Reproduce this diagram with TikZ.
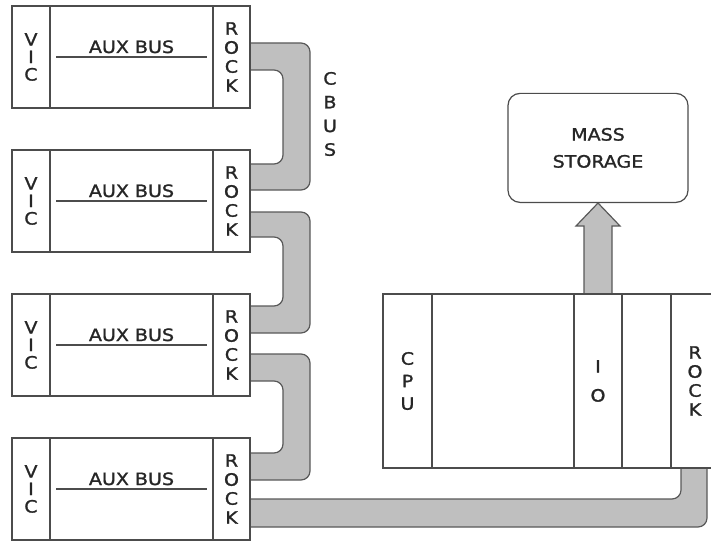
\documentclass[tikz,border=0pt]{standalone}
\usepackage{fontspec}
\newfontfamily\diagfont{DejaVu Sans}[FakeStretch=1.12,FakeBold=1.3]
\usetikzlibrary{positioning,calc,backgrounds}
\tikzset{
    slot/.style={
        rectangle,                % módulo de chasis
        draw=black!70,            % borde gris oscuro
        fill=white,               % relleno blanco (tapa los extremos de los buses)
        line width=1.2pt,
        outer sep=0pt,            % módulos pegados unos a otros
        inner sep=0pt,
        minimum width=#1,
        align=center,
        text=black!85,
        font=\diagfont\fontsize{17}{18}\selectfont
    },
    vicslot/.style={slot=#1, minimum height=102pt},   % chasis VIC
    rackslot/.style={slot=#1, minimum height=174pt},  % chasis de la CPU
    vpitch/.style={font=\diagfont\fontsize{17}{#1}\selectfont}, % letras en columna
    storage/.style={
        rectangle,
        rounded corners=12pt,     % esquinas redondeadas
        draw=black!70,
        fill=white,
        line width=1.2pt,
        minimum width=180pt,
        minimum height=109pt,
        align=center,
        text=black!85,
        font=\diagfont\fontsize{17}{27}\selectfont
    },
    lbl/.style={inner sep=0pt, text=black!85, font=\diagfont\fontsize{17}{18}\selectfont},
    auxline/.style={draw=black!70, line width=1.2pt},
    cbus/.style={
        fill=black!25,            % bus gris claro
        draw=black!65,            % contorno gris
        line width=1.2pt,
        rounded corners=9pt
    },
    busarrow/.style={fill=black!25, draw=black!65, line width=1.2pt}
}
\begin{document}
\begin{tikzpicture}[x=1pt,y=-1pt,node distance=42pt]
\useasboundingbox (0,0) rectangle (711,540);
\clip (0,0) rectangle (711,540);

% chasis VIC
\node[vicslot=38pt, vpitch=17.5pt] (vic1) at (31,57) {V\\I\\C};
\node[vicslot=163pt, right=0pt of vic1] (aux1) {};
\node[vicslot=37pt, right=0pt of aux1, vpitch=19pt] (rock1) {R\\O\\C\\K};

\node[vicslot=38pt, vpitch=17.5pt, below=of vic1] (vic2) {V\\I\\C};
\node[vicslot=163pt, right=0pt of vic2] (aux2) {};
\node[vicslot=37pt, right=0pt of aux2, vpitch=19pt] (rock2) {R\\O\\C\\K};

\node[vicslot=38pt, vpitch=17.5pt, below=of vic2] (vic3) {V\\I\\C};
\node[vicslot=163pt, right=0pt of vic3] (aux3) {};
\node[vicslot=37pt, right=0pt of aux3, vpitch=19pt] (rock3) {R\\O\\C\\K};

\node[vicslot=38pt, vpitch=17.5pt, below=of vic3] (vic4) {V\\I\\C};
\node[vicslot=163pt, right=0pt of vic4] (aux4) {};
\node[vicslot=37pt, right=0pt of aux4, vpitch=19pt] (rock4) {R\\O\\C\\K};

% bus auxiliar de cada chasis
\node[lbl, anchor=base] (auxl1) at ($(aux1.center)+(0,-4)$) {AUX BUS};
\draw[auxline] ($(aux1.west)+(6,0)$) -- ($(aux1.east)+(-6,0)$);
\node[lbl, anchor=base] (auxl2) at ($(aux2.center)+(0,-4)$) {AUX BUS};
\draw[auxline] ($(aux2.west)+(6,0)$) -- ($(aux2.east)+(-6,0)$);
\node[lbl, anchor=base] (auxl3) at ($(aux3.center)+(0,-4)$) {AUX BUS};
\draw[auxline] ($(aux3.west)+(6,0)$) -- ($(aux3.east)+(-6,0)$);
\node[lbl, anchor=base] (auxl4) at ($(aux4.center)+(0,-4)$) {AUX BUS};
\draw[auxline] ($(aux4.west)+(6,0)$) -- ($(aux4.east)+(-6,0)$);

% chasis de la CPU
\node[rackslot=49pt, vpitch=22.5pt] (cpu) at (407.5,381) {C\\P\\U};
\node[rackslot=142pt, right=0pt of cpu] (rackmid) {};
\node[rackslot=48pt, right=0pt of rackmid, vpitch=29pt] (io) {I\\O};
\node[rackslot=49pt, right=0pt of io] (spare) {};
\node[rackslot=48pt, right=0pt of spare, vpitch=19pt] (rrock) {R\\O\\C\\K};

\node[storage, above=91pt of io] (mass) {MASS\\STORAGE};
\node[lbl, align=center, font=\diagfont\fontsize{17}{23.7}\selectfont] (cbuslbl) at (330,114) {C\\B\\U\\S};

\begin{scope}[on background layer]
% C BUS entre chasis
\draw[cbus] ($(rock1.north east)+(-20,37)$) -- ($(rock1.north east)+(60,37)$)
    -- ($(rock2.north east)+(60,40)$) -- ($(rock2.north east)+(-20,40)$)
    -- ($(rock2.north east)+(-20,14)$) -- ($(rock2.north east)+(33,14)$)
    -- ($(rock1.north east)+(33,64)$) -- ($(rock1.north east)+(-20,64)$) -- cycle;
\draw[cbus] ($(rock2.north east)+(-20,62)$) -- ($(rock2.north east)+(60,62)$)
    -- ($(rock3.north east)+(60,39)$) -- ($(rock3.north east)+(-20,39)$)
    -- ($(rock3.north east)+(-20,12)$) -- ($(rock3.north east)+(33,12)$)
    -- ($(rock2.north east)+(33,87)$) -- ($(rock2.north east)+(-20,87)$) -- cycle;
\draw[cbus] ($(rock3.north east)+(-20,60)$) -- ($(rock3.north east)+(60,60)$)
    -- ($(rock4.north east)+(60,42)$) -- ($(rock4.north east)+(-20,42)$)
    -- ($(rock4.north east)+(-20,15)$) -- ($(rock4.north east)+(33,15)$)
    -- ($(rock3.north east)+(33,87)$) -- ($(rock3.north east)+(-20,87)$) -- cycle;

% C BUS hasta el chasis de la CPU
\coordinate (rin) at ($(rock4.north east)+(-20,61)$);
\coordinate (rout) at ($(rock4.north east)+(-20,89)$);
\coordinate (cin) at ($(rrock.south west)+(10,-15)$);
\coordinate (cout) at ($(rrock.south west)+(36,-15)$);
\draw[cbus] (rin) -- (rin -| cin) -- (cin) -- (cout) -- (rout -| cout) -- (rout) -- cycle;

% flecha IO -> almacenamiento
\coordinate (hb) at ($(mass.south)+(0,23)$);
\coordinate (sl) at ($(io.north)+(-14,6)$);
\coordinate (sr) at ($(io.north)+(14,6)$);
\draw[busarrow] (sl) -- (sl |- hb) -- ($(sl |- hb)+(-8,0)$) -- (mass.south)
    -- ($(sr |- hb)+(8,0)$) -- (sr |- hb) -- (sr) -- cycle;
\end{scope}
\end{tikzpicture}
\end{document}
